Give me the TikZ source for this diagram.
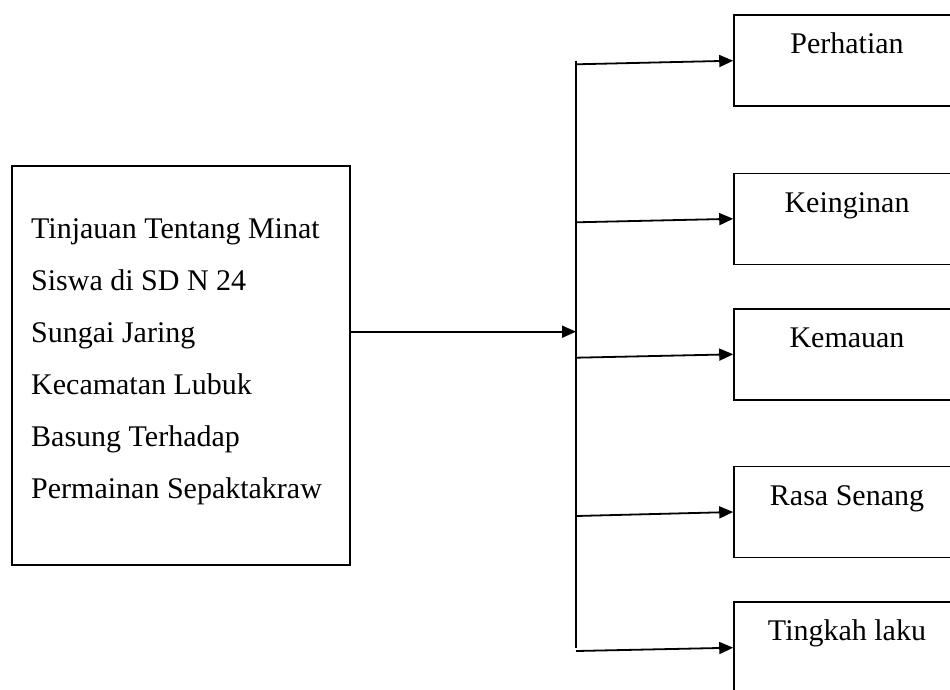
\documentclass[tikz,border=0pt]{standalone}
\usepackage{fontspec}
\setmainfont{Liberation Serif}
\usetikzlibrary{arrows.meta}
\begin{document}
\begin{tikzpicture}[x=1pt,y=-1pt,
  box/.style={draw=black,line width=1.6pt,fill=none,inner sep=0pt},
  rbox/.style={box,minimum width=226pt,minimum height=91pt},
  lbl/.style={font=\fontsize{30}{36}\selectfont,inner sep=0pt,anchor=base},
  ltxt/.style={font=\fontsize{30}{36}\selectfont,inner sep=0pt,anchor=base west},
  conn/.style={line width=1.8pt,-{Triangle[length=14pt,width=12pt]}},
  plain/.style={line width=1.8pt}]
\useasboundingbox (0,0) rectangle (950,689);
% left box
\node[box,minimum width=338pt,minimum height=399pt] (L) at (181,365.5) {};
\node[ltxt] (t1) at (31,238) {Tinjauan Tentang Minat};
\node[ltxt] (t2) at (31,290) {Siswa di SD N 24};
\node[ltxt] (t3) at (31,342) {Sungai Jaring};
\node[ltxt] (t4) at (31,394.5) {Kecamatan Lubuk};
\node[ltxt] (t5) at (31,446.5) {Basung Terhadap};
\node[ltxt] (t6) at (31,498) {Permainan Sepaktakraw};
% right boxes
\node[rbox] (r1) at (847,60.7) {};
\node[rbox] (r2) at (847,218.8) {};
\node[rbox] (r3) at (847,354.3) {};
\node[rbox] (r4) at (847,512) {};
\node[rbox] (r5) at (847,647.7) {};
\node[lbl] (p1) at (847,53.5) {Perhatian};
\node[lbl] (p2) at (847,212) {Keinginan};
\node[lbl] (p3) at (847,347.5) {Kemauan};
\node[lbl] (p4) at (847,505) {Rasa Senang};
\node[lbl] (p5) at (847,640.7) {Tingkah laku};
% connectors
\coordinate (vtop) at (576,61);
\coordinate (vbot) at (576,648);
\coordinate (m) at (576,331.7);
\coordinate (b1) at (576,64.3);
\coordinate (b2) at (576,222.3);
\coordinate (b3) at (576,357.7);
\coordinate (b4) at (576,516);
\coordinate (b5) at (576,651);
\draw[plain] (vtop) -- (vbot);
\draw[conn] (L.east |- m) -- (m);
\draw[conn] (b1) -- (r1.west);
\draw[conn] (b2) -- (r2.west);
\draw[conn] (b3) -- (r3.west);
\draw[conn] (b4) -- (r4.west);
\draw[conn] (b5) -- (r5.west);
\end{tikzpicture}
\end{document}
